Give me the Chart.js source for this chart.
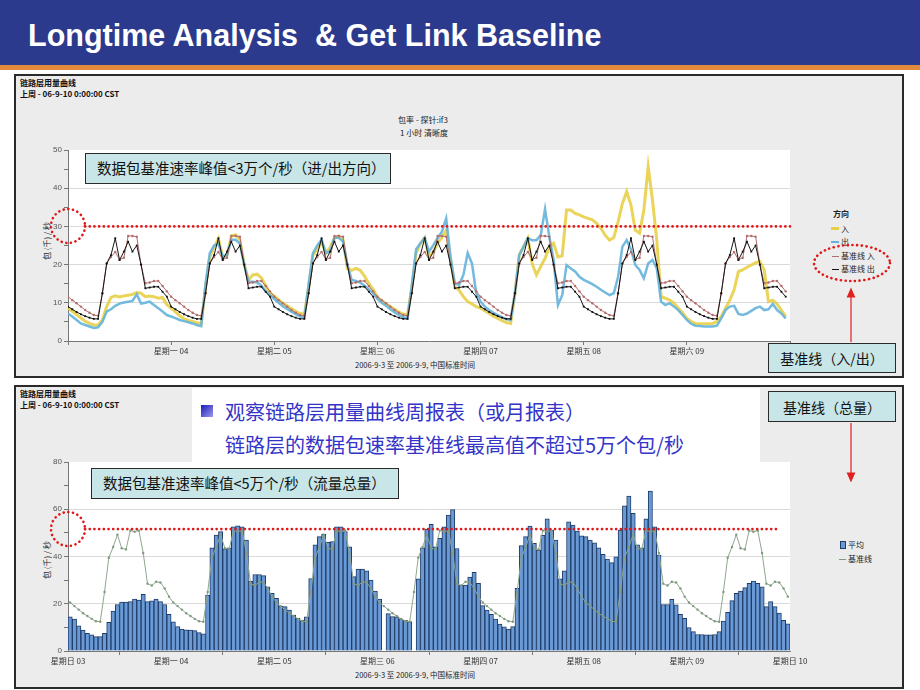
<!DOCTYPE html>
<html lang="zh">
<head>
<meta charset="utf-8">
<title>Longtime Analysis &amp; Get Link Baseline</title>
<script src="https://cdn.jsdelivr.net/npm/chart.js@4.4.1/dist/chart.umd.min.js"></script>
<style>
  * { box-sizing: border-box; }
  body { margin: 0; width: 920px; height: 690px; position: relative; overflow: hidden; background: #fff;
         font-family: "Noto Sans CJK SC", "DejaVu Sans", sans-serif; color: #111; }
  .a { position: absolute; white-space: nowrap; line-height: 1; }
  .c { transform: translate(-50%, -50%); }
  .m { transform: translateY(-50%); }
  #band { left: 0; top: 0; width: 920px; height: 65px; background: #2C3A8D; }
  #stripe { left: 0; top: 65px; width: 920px; height: 5px; background: #E38B3D; }
  #title { left: 28px; top: 35px; color: #fff; font: bold 30.5px "Liberation Sans", Arial, sans-serif; }
  .panel { left: 14px; width: 890px; height: 304px; background: #ECECEC; border: 2px solid #2A2A2A; }
  .hdr { font-size: 8px; font-weight: bold; line-height: 11px; white-space: pre; }
  .small { font-size: 8px; color: #222; }
  .note { background: #C8E5E7; border: 1.5px solid #2A2A2A; font-size: 14.5px; display: flex; align-items: center; padding-left: 11px; }
  .tag { background: #C8E5E7; border: 1.5px solid #2A2A2A; font-size: 14px; display: flex; align-items: center; justify-content: center; }
  .sw { position: absolute; }
  canvas { position: absolute; }
</style>
</head>
<body>
<div class="a" id="band"></div>
<div class="a" id="stripe"></div>
<div class="a m" id="title">Longtime Analysis&nbsp; &amp; Get Link Baseline</div>

<!-- panel 1 -->
<div class="a panel" style="top:74px"></div>
<div class="a hdr" style="left:20px;top:77px">链路层用量曲线
上周 - 06-9-10 0:00:00 CST</div>
<div class="a c small" style="left:423px;top:120px">包率 - 探针:if3</div>
<div class="a c small" style="left:424px;top:133px">1 小时 清晰度</div>
<div class="a c small" style="left:47px;top:241px;transform:translate(-50%,-50%) rotate(-90deg)">包 (千) / 秒</div>
<div class="a c small" style="left:415px;top:365px;font-size:7.5px">2006-9-3 至 2006-9-9, 中国标准时间</div>
<canvas id="c1" width="790" height="222" style="left:20px;top:140px"></canvas>

<div class="a small" style="left:833px;top:210px;font-weight:bold">方向</div>
<div class="sw" style="left:831px;top:227px;width:8px;height:3px;background:#E6CF45"></div>
<div class="a m small" style="left:841px;top:229px">入</div>
<div class="sw" style="left:831px;top:241px;width:8px;height:2px;background:#67B2DA"></div>
<div class="a m small" style="left:841px;top:242px">出</div>
<div class="sw" style="left:832px;top:256px;width:7px;height:1px;background:#B36D6D"></div>
<div class="a m small" style="left:841px;top:256px">基准线 入</div>
<div class="sw" style="left:832px;top:269px;width:7px;height:1px;background:#111"></div>
<div class="a m small" style="left:841px;top:269px">基准线 出</div>

<div class="a note" style="left:85px;top:153px;width:306px;height:31px">数据包基准速率峰值&lt;3万个/秒（进/出方向）</div>
<div class="a tag" style="left:768px;top:343px;width:128px;height:30px">基准线（入/出）</div>

<!-- panel 2 -->
<div class="a panel" style="top:385px"></div>
<div class="a hdr" style="left:20px;top:388px">链路层用量曲线
上周 - 06-9-10 0:00:00 CST</div>
<div class="a c small" style="left:47px;top:560px;transform:translate(-50%,-50%) rotate(-90deg)">包 (千) / 秒</div>
<div class="a c small" style="left:415px;top:675px;font-size:7.5px">2006-9-3 至 2006-9-9, 中国标准时间</div>
<canvas id="c2" width="790" height="220" style="left:20px;top:452px"></canvas>

<div class="sw" style="left:840px;top:541px;width:6px;height:8px;background:#6A9AD6;border:1px solid #1F3C68"></div>
<div class="a m small" style="left:848px;top:545px">平均</div>
<div class="sw" style="left:839px;top:559px;width:7px;height:1px;background:#7F9A7F"></div>
<div class="a m small" style="left:848px;top:559px">基准线</div>

<div class="a" style="left:192px;top:388px;width:568px;height:74px;background:#fff"></div>
<div class="sw" style="left:201px;top:405px;width:12px;height:12px;background:linear-gradient(135deg,#1B1BB5,#9A9AF2)"></div>
<div class="a m" style="left:225px;top:412px;font-size:20px;color:#3434C8">观察链路层用量曲线周报表（或月报表）</div>
<div class="a m" style="left:225px;top:445px;font-size:20px;color:#3434C8">链路层的数据包速率基准线最高值不超过5万个包/秒</div>

<div class="a note" style="left:91px;top:468px;width:308px;height:31px">数据包基准速率峰值&lt;5万个/秒（流量总量）</div>
<div class="a tag" style="left:768px;top:391px;width:128px;height:31px">基准线（总量）</div>

<svg class="a" style="left:0;top:0" width="920" height="690">
  <g fill="none" stroke="#E01818" stroke-width="2.6" stroke-linecap="round" stroke-dasharray="0.1 4.6">
    <ellipse cx="68" cy="226" rx="17" ry="17"/>
    <ellipse cx="68" cy="529" rx="17" ry="17"/>
    <ellipse cx="852" cy="263" rx="38" ry="18"/>
  </g>
  <g stroke="#E02020" stroke-width="1.2" fill="#E02020">
    <line x1="851" y1="342" x2="851" y2="296"/>
    <polygon points="851,289 847.5,297 854.5,297"/>
    <line x1="851" y1="423" x2="851" y2="474"/>
    <polygon points="851,481 847.5,473 854.5,473"/>
  </g>
</svg>

<script>
const dayLabels = ['星期日 03', '星期一 04', '星期二 05', '星期三 06', '星期四 07', '星期五 08', '星期六 09', '星期日 10'];

// 包率 (千/秒), hourly, Sun 03 .. Sat 09
const inRate = [
  8.6, 7.8, 6.9, 6.0, 5.2, 4.6, 4.2, 4.2, 5.5, 9.0, 11.4, 11.8, 11.5, 11.8, 12.0, 12.2, 12.7, 12.5, 11.6, 11.8, 11.6, 11.2, 11.4, 9.5,
  8.6, 7.6, 6.6, 5.8, 5.4, 5.1, 4.8, 4.6, 14, 22, 24.5, 26.8, 22, 22.5, 27.5, 27.8, 26.5, 20, 16, 17.3, 17.5, 16.5, 14.5, 12.5,
  11.8, 10.8, 9.9, 9.2, 8.5, 7.8, 7.2, 7.0, 14, 22.5, 24, 26, 23, 24.5, 27, 27.5, 26.5, 19, 18.5, 19, 18.5, 17, 15, 13.5,
  11.5, 10.5, 9.8, 9.0, 8.3, 7.6, 7.0, 6.8, 14, 23, 25.5, 27, 22, 23.4, 25.6, 27.1, 29, 21.6, 14.2, 13.3, 11.6, 10.3, 9.7, 9.0,
  8.6, 7.9, 7.2, 6.5, 5.9, 5.3, 4.8, 4.6, 12.5, 22.5, 24.7, 26.9, 20.3, 17.3, 19.5, 21.6, 24.7, 25.6, 22, 22.3, 34.3, 34.3, 33.4, 33,
  32.5, 32.1, 31.7, 30.8, 29.5, 27.7, 26.4, 27.1, 31.2, 36, 39.1, 35.6, 29, 28.2, 34.3, 45.6, 36.9, 26.4, 11.6, 11.2, 10.7, 9.9, 8.6, 7.4,
  5.9, 5.1, 4.6, 4.5, 4.5, 4.5, 4.6, 5.1, 6.4, 8.6, 10.7, 13.4, 18.2, 18.6, 19.3, 19.9, 20.5, 20.8, 18.6, 10.3, 10.7, 9.7, 8.1, 6.4
];
const outRate = [
  7.2, 6.4, 5.5, 4.6, 4.2, 3.8, 3.4, 3.6, 5.0, 7.7, 8.3, 9.2, 9.8, 10.1, 10.3, 10.5, 12.2, 9.8, 10.0, 10.3, 9.4, 8.6, 7.7, 6.8,
  6.4, 6.0, 5.5, 5.2, 4.9, 4.6, 4.2, 3.9, 15, 23, 25, 25.5, 22, 22.5, 26.5, 26.5, 25.5, 20, 15.5, 15.5, 15.3, 14.5, 13, 12,
  11, 10, 9.1, 8.4, 7.7, 7, 6.4, 6.1, 15, 23, 25, 26.5, 23, 23.5, 27, 27, 26, 20, 16, 15.7, 15.3, 14.5, 13.5, 12.5,
  11, 10, 9.2, 8.3, 7.5, 6.8, 6.2, 5.9, 14.5, 24, 25.6, 27, 23.4, 25.1, 26.9, 28.6, 32.1, 22, 15.1, 14.7, 17.3, 23, 20.3, 12.5,
  10.3, 9, 8.1, 7.4, 6.8, 6.2, 5.7, 5.5, 12.5, 22.5, 24.7, 26.9, 26.4, 26.4, 27.7, 34.5, 27.3, 21.2, 9.4, 12, 19.9, 19, 18.2, 16.8,
  16, 15.5, 14.9, 14.2, 13.4, 12.7, 12, 12.5, 16.8, 24.7, 26.4, 24, 19.9, 18.6, 16.4, 20.3, 21.2, 19, 10.3, 9.4, 9.9, 9, 8.1, 6.8,
  5.5, 4.5, 4, 3.9, 3.8, 3.8, 3.8, 4, 5.9, 8.1, 9, 9.2, 7.1, 6.8, 7.2, 7.9, 8.6, 9, 8.1, 8.3, 9.7, 8.1, 7.2, 5.9
];
const inBase = [
  11.6, 10.7, 9.9, 9.0, 8.1, 7.4, 6.8, 6.6, 12.5, 20.3, 22.0, 23.3, 21.3, 21.8, 27.5, 27.5, 27.3, 20.0, 15.1, 15.3, 15.7, 15.7, 14.4, 13.0,
  11.6, 10.7, 9.9, 9.0, 8.1, 7.4, 6.8, 6.6, 12.5, 20.3, 22.0, 23.3, 21.3, 21.8, 27.5, 27.5, 27.3, 20.0, 15.1, 15.3, 15.7, 15.7, 14.4, 13.0,
  11.6, 10.7, 9.9, 9.0, 8.1, 7.4, 6.8, 6.6, 12.5, 20.3, 22.0, 23.3, 21.3, 21.8, 27.5, 27.5, 27.3, 20.0, 15.1, 15.3, 15.7, 15.7, 14.4, 13.0,
  11.6, 10.7, 9.9, 9.0, 8.1, 7.4, 6.8, 6.6, 12.5, 20.3, 22.0, 23.3, 21.3, 21.8, 27.5, 27.5, 27.3, 20.0, 15.1, 15.3, 15.7, 15.7, 14.4, 13.0,
  11.6, 10.7, 9.9, 9.0, 8.1, 7.4, 6.8, 6.6, 12.5, 20.3, 22.0, 23.3, 21.3, 21.8, 27.5, 27.5, 27.3, 20.0, 15.1, 15.3, 15.7, 15.7, 14.4, 13.0,
  11.6, 10.7, 9.9, 9.0, 8.1, 7.4, 6.8, 6.6, 12.5, 20.3, 22.0, 23.3, 21.3, 21.8, 27.5, 27.5, 27.3, 20.0, 15.1, 15.3, 15.7, 15.7, 14.4, 13.0,
  11.6, 10.7, 9.9, 9.0, 8.1, 7.4, 6.8, 6.6, 12.5, 20.3, 22.0, 23.3, 21.3, 21.8, 27.5, 27.5, 27.3, 20.0, 15.1, 15.3, 15.7, 15.7, 14.4, 13.0
];
const outBase = [
  9.0, 8.3, 7.6, 7.0, 6.5, 6.1, 5.8, 5.8, 12.5, 20.3, 22.5, 26.9, 21.2, 23.4, 26.0, 23.4, 25.0, 20.0, 13.8, 14.0, 14.2, 14.2, 12.9, 11.6,
  9.0, 8.3, 7.6, 7.0, 6.5, 6.1, 5.8, 5.8, 12.5, 20.3, 22.5, 26.9, 21.2, 23.4, 26.0, 23.4, 25.0, 20.0, 13.8, 14.0, 14.2, 14.2, 12.9, 11.6,
  9.0, 8.3, 7.6, 7.0, 6.5, 6.1, 5.8, 5.8, 12.5, 20.3, 22.5, 26.9, 21.2, 23.4, 26.0, 23.4, 25.0, 20.0, 13.8, 14.0, 14.2, 14.2, 12.9, 11.6,
  9.0, 8.3, 7.6, 7.0, 6.5, 6.1, 5.8, 5.8, 12.5, 20.3, 22.5, 26.9, 21.2, 23.4, 26.0, 23.4, 25.0, 20.0, 13.8, 14.0, 14.2, 14.2, 12.9, 11.6,
  9.0, 8.3, 7.6, 7.0, 6.5, 6.1, 5.8, 5.8, 12.5, 20.3, 22.5, 26.9, 21.2, 23.4, 26.0, 23.4, 25.0, 20.0, 13.8, 14.0, 14.2, 14.2, 12.9, 11.6,
  9.0, 8.3, 7.6, 7.0, 6.5, 6.1, 5.8, 5.8, 12.5, 20.3, 22.5, 26.9, 21.2, 23.4, 26.0, 23.4, 25.0, 20.0, 13.8, 14.0, 14.2, 14.2, 12.9, 11.6,
  9.0, 8.3, 7.6, 7.0, 6.5, 6.1, 5.8, 5.8, 12.5, 20.3, 22.5, 26.9, 21.2, 23.4, 26.0, 23.4, 25.0, 20.0, 13.8, 14.0, 14.2, 14.2, 12.9, 11.6
];

// 流量总量, hourly bars ("平均") and its baseline
const totalAvg = [
  14.5, 13.5, 10.7, 8.9, 7.5, 6.8, 6.1, 6.1, 7.5, 12.1, 16.9, 19.7, 20.7, 20.7, 20.9, 22, 21.6, 24, 20.9, 21.2, 22, 20.9, 19.7, 15.5,
  12.4, 10.3, 9.3, 9, 8.9, 8.6, 7.8, 7.3, 23.7, 43.7, 49.1, 50.5, 43.2, 43.7, 52.6, 53, 52.6, 47, 29.6, 32.4, 32.4, 31.9, 27.2, 24.4,
  22.3, 19, 18.8, 17.3, 15.2, 13.8, 13.1, 14.5, 30.7, 44.9, 48.4, 49.5, 46, 46.3, 52.6, 52.6, 50.5, 44.1, 31.5, 34.7, 34.7, 33.9, 30, 25.4,
  22, null, 15.8, 14.6, 14.5, 13.5, 13, 12.5, null, 30.5, 43.7, 51.6, 53.6, 44.1, 47.7, 52.6, 57.5, 59.9, 43.4, 27.9, 27.9, 31.3, 33.3, 28.6,
  19.2, 17.3, 15.5, 13.5, 11.4, 10.2, 9.3, 10.3, 26.5, 44.6, 48.4, 52.9, 45.6, 42.7, 49, 55.9, 51.2, 47, 30.5, 33.9, 54.7, 53.3, 50.8, 48.7,
  48.4, 47, 45.8, 43.7, 40.9, 38.9, 37.4, 39.9, 51.2, 61.5, 65.6, 58.3, 44.9, 43.7, 55.9, 67.7, 52.6, 40.6, 19.7, 19.7, 21.9, 19.5, 15.5, 13.8,
  9.9, 8.2, 7, 7, 6.8, 6.8, 7, 8.2, 12.7, 16.4, 21.3, 24.4, 25.4, 26.8, 28.6, 29.6, 28.6, 27.2, 18.8, 20.9, 18.8, 16, 13, 11.5
];
const totalBase = [
  20.5, 19, 17.5, 16, 14.8, 13.6, 12.6, 12.4, 25, 39.5, 44, 49.2, 43.5, 43, 51, 50.5, 51, 41.5, 28.5, 27.7, 29.3, 29, 26.5, 23,
  20.5, 19, 17.5, 16, 14.8, 13.6, 12.6, 12.4, 25, 39.5, 44, 49.2, 43.5, 43, 51, 50.5, 51, 41.5, 28.5, 27.7, 29.3, 29, 26.5, 23,
  20.5, 19, 17.5, 16, 14.8, 13.6, 12.6, 12.4, 25, 39.5, 44, 49.2, 43.5, 43, 51, 50.5, 51, 41.5, 28.5, 27.7, 29.3, 29, 26.5, 23,
  20.5, 19, 17.5, 16, 14.8, 13.6, 12.6, 12.4, 25, 39.5, 44, 49.2, 43.5, 43, 51, 50.5, 51, 41.5, 28.5, 27.7, 29.3, 29, 26.5, 23,
  20.5, 19, 17.5, 16, 14.8, 13.6, 12.6, 12.4, 25, 39.5, 44, 49.2, 43.5, 43, 51, 50.5, 51, 41.5, 28.5, 27.7, 29.3, 29, 26.5, 23,
  20.5, 19, 17.5, 16, 14.8, 13.6, 12.6, 12.4, 25, 39.5, 44, 49.2, 43.5, 43, 51, 50.5, 51, 41.5, 28.5, 27.7, 29.3, 29, 26.5, 23,
  20.5, 19, 17.5, 16, 14.8, 13.6, 12.6, 12.4, 25, 39.5, 44, 49.2, 43.5, 43, 51, 50.5, 51, 41.5, 28.5, 27.7, 29.3, 29, 26.5, 23
];

const inOutLimit = 30;     // 3万个/秒
const totalLimit = 51.6;   // 约5万个/秒

const pts = (arr, off) => arr.map((v, i) => ({ x: i + off, y: v }));

// white plot background
const plotBg = {
  id: 'plotBg',
  beforeDraw(chart) {
    const a = chart.chartArea, ctx = chart.ctx;
    ctx.save();
    ctx.fillStyle = '#fff';
    ctx.fillRect(a.left, a.top, a.right - a.left, a.bottom - a.top);
    ctx.restore();
  }
};

// red dotted limit line
const refLine = {
  id: 'refLine',
  afterDatasetsDraw(chart, args, opts) {
    const a = chart.chartArea, ctx = chart.ctx;
    const y = chart.scales.y.getPixelForValue(opts.value);
    ctx.save();
    ctx.strokeStyle = '#E01818';
    ctx.lineWidth = 2.6;
    ctx.lineCap = 'round';
    ctx.setLineDash([0.1, 4.6]);
    ctx.beginPath();
    ctx.moveTo(a.left + 17, y);
    ctx.lineTo(a.right - opts.endGap, y);
    ctx.stroke();
    ctx.restore();
  }
};

const tickFont = { family: '"Noto Sans CJK SC", sans-serif', size: 8 };
const numFont = { family: '"Liberation Sans", Arial, sans-serif', size: 8 };

function xScale(showEnds) {
  return {
    type: 'linear', min: 0, max: 168, offset: false,
    afterFit: s => { s.height = 21; },
    afterBuildTicks: s => { s.ticks = dayLabels.map((_, d) => ({ value: d * 24 })); },
    ticks: {
      autoSkip: false, maxRotation: 0, padding: 1, color: '#333', font: tickFont,
      callback: v => { const d = v / 24; return (!showEnds && (d === 0 || d === 7)) ? '' : dayLabels[d]; }
    },
    grid: { drawOnChartArea: false, tickLength: 4, color: '#777' },
    border: { color: '#777' }
  };
}

function yScale(max, step, major) {
  return {
    min: 0, max: max,
    afterFit: s => { s.width = 48; },
    ticks: { stepSize: step, padding: 2, color: '#555', font: numFont,
             callback: v => (v % major === 0 ? v : '') },
    grid: {
      tickLength: 4, tickColor: '#777',
      color: c => (c.tick && c.tick.value % major === 0 && c.tick.value > 0 && c.tick.value < max) ? '#DADADA' : 'rgba(0,0,0,0)'
    },
    border: { color: '#777' }
  };
}

new Chart(document.getElementById('c1'), {
  type: 'line',
  data: {
    datasets: [
      { label: '入', data: pts(inRate, 0), borderColor: 'rgba(230,205,60,0.85)', borderWidth: 3, pointRadius: 0, order: 4 },
      { label: '出', data: pts(outRate, 0), borderColor: 'rgba(100,178,218,0.9)', borderWidth: 2.5, pointRadius: 0, order: 3 },
      { label: '基准线 入', data: pts(inBase, 0), borderColor: '#B36D6D', borderWidth: 1,
        pointRadius: 1.2, pointBackgroundColor: '#B36D6D', pointBorderWidth: 0, order: 2 },
      { label: '基准线 出', data: pts(outBase, 0), borderColor: '#151515', borderWidth: 1,
        pointRadius: 1.3, pointStyle: 'rect', pointBackgroundColor: '#111', pointBorderWidth: 0, order: 1 }
    ]
  },
  options: {
    responsive: false, animation: false, events: [],
    layout: { padding: { top: 10, right: 20, left: 0, bottom: 0 } },
    plugins: { legend: { display: false }, tooltip: { enabled: false }, refLine: { value: inOutLimit, endGap: 0 } },
    scales: { x: xScale(false), y: yScale(50, 5, 10) }
  },
  plugins: [plotBg, refLine]
});

new Chart(document.getElementById('c2'), {
  type: 'bar',
  data: {
    datasets: [
      { type: 'line', label: '基准线', data: pts(totalBase, 0.5), borderColor: '#8FA78F', borderWidth: 1,
        pointRadius: 1.2, pointBackgroundColor: '#7F9A7F', pointBorderWidth: 0, order: 1 },
      { type: 'bar', label: '平均', data: pts(totalAvg, 0.5), backgroundColor: '#6A9AD6', borderColor: '#1F3C68',
        borderWidth: 1, barPercentage: 1, categoryPercentage: 1, order: 2 }
    ]
  },
  options: {
    responsive: false, animation: false, events: [],
    layout: { padding: { top: 10, right: 20, left: 0, bottom: 0 } },
    plugins: { legend: { display: false }, tooltip: { enabled: false }, refLine: { value: totalLimit, endGap: 10 } },
    scales: { x: xScale(true), y: yScale(80, 10, 20) }
  },
  plugins: [plotBg, refLine]
});
</script>
</body>
</html>
